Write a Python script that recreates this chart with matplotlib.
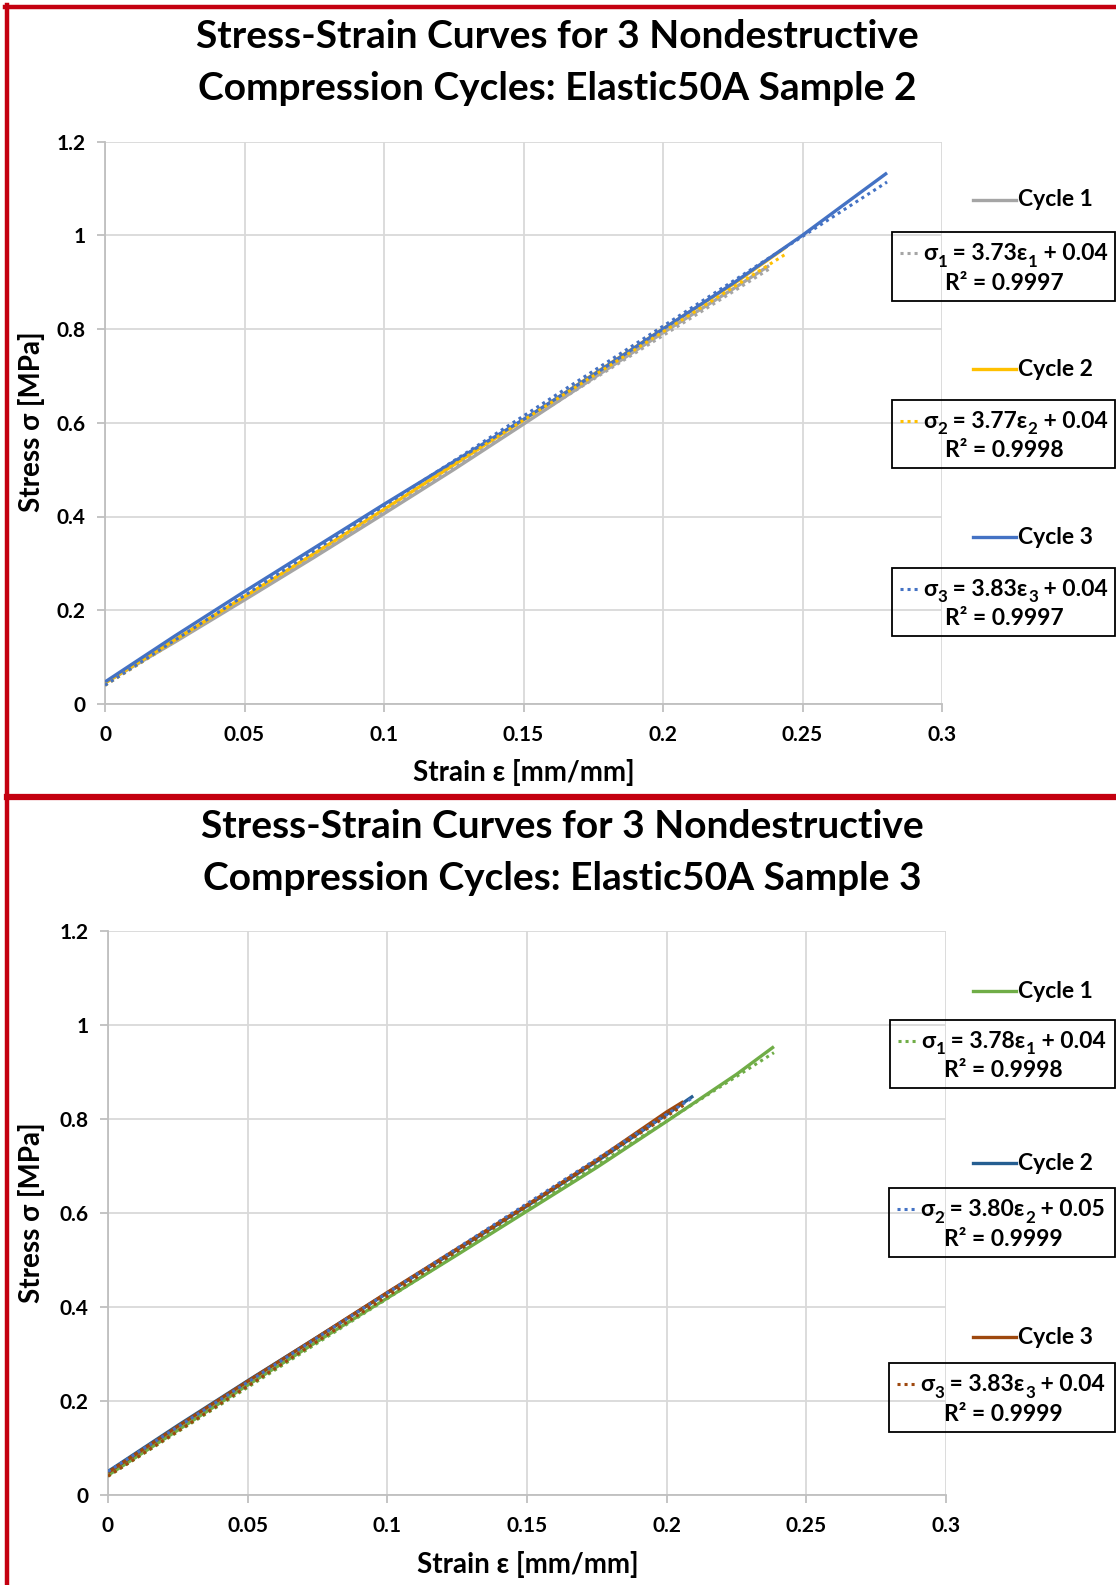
import matplotlib
matplotlib.use("Agg")
import matplotlib.pyplot as plt
from matplotlib.lines import Line2D
from matplotlib.patches import Rectangle
import numpy as np

plt.rcParams['font.family'] = ['Lato', 'DejaVu Sans']
plt.rcParams['font.weight'] = 'bold'

W, H = 1116, 1585

# ---------------- data ----------------
x_ticks = [0, 0.05, 0.1, 0.15, 0.2, 0.25, 0.3]
x_ticklabels = ["0", "0.05", "0.1", "0.15", "0.2", "0.25", "0.3"]
y_ticks = [0, 0.2, 0.4, 0.6, 0.8, 1.0, 1.2]
y_ticklabels = ["0", "0.2", "0.4", "0.6", "0.8", "1", "1.2"]

# Sample 2
s2_c1_x = [0, 0.025, 0.05, 0.075, 0.1, 0.125, 0.15, 0.175, 0.2, 0.225, 0.238]
s2_c1_y = [0.045, 0.132, 0.222, 0.313, 0.406, 0.500, 0.597, 0.695, 0.792, 0.885, 0.935]
s2_c2_x = [0, 0.025, 0.05, 0.075, 0.1, 0.125, 0.15, 0.175, 0.2, 0.225, 0.2437]
s2_c2_y = [0.045, 0.137, 0.229, 0.321, 0.415, 0.510, 0.606, 0.703, 0.800, 0.895, 0.973]
s2_c3_x = [0, 0.025, 0.05, 0.075, 0.1, 0.125, 0.15, 0.175, 0.2, 0.225, 0.25, 0.265, 0.2803]
s2_c3_y = [0.047, 0.145, 0.240, 0.333, 0.426, 0.517, 0.607, 0.702, 0.800, 0.897, 1.000, 1.066, 1.133]
s2_slope = [3.73, 3.77, 3.83]
s2_icpt = [0.04, 0.04, 0.04]
s2_r2 = ["0.9997", "0.9998", "0.9997"]
s2_names = ["Cycle 1", "Cycle 2", "Cycle 3"]

# Sample 3
s3_c1_x = [0, 0.025, 0.05, 0.075, 0.1, 0.125, 0.15, 0.175, 0.2, 0.225, 0.2384]
s3_c1_y = [0.042, 0.138, 0.234, 0.327, 0.419, 0.511, 0.604, 0.697, 0.795, 0.895, 0.954]
s3_c2_x = [0, 0.025, 0.05, 0.075, 0.1, 0.125, 0.15, 0.175, 0.2, 0.2095]
s3_c2_y = [0.050, 0.148, 0.243, 0.336, 0.430, 0.522, 0.615, 0.710, 0.810, 0.849]
s3_c3_x = [0, 0.025, 0.05, 0.075, 0.1, 0.125, 0.15, 0.175, 0.2, 0.206]
s3_c3_y = [0.048, 0.146, 0.242, 0.336, 0.431, 0.524, 0.617, 0.713, 0.815, 0.837]
s3_slope = [3.78, 3.80, 3.83]
s3_icpt = [0.04, 0.05, 0.04]
s3_r2 = ["0.9998", "0.9999", "0.9999"]
s3_names = ["Cycle 1", "Cycle 2", "Cycle 3"]

s2_colors = ['#A5A5A5', '#FFC000', '#4472C4']
s2_tcolors = ['#A5A5A5', '#FFC000', '#4472C4']
s3_colors = ['#70AD47', '#255E91', '#9E480E']
s3_tcolors = ['#70AD47', '#4472C4', '#9E480E']

titles = [("Stress-Strain Curves for 3 Nondestructive", "Compression Cycles: Elastic50A Sample 2"),
          ("Stress-Strain Curves for 3 Nondestructive", "Compression Cycles: Elastic50A Sample 3")]
xlabel = "Strain ε [mm/mm]"
ylabel = "Stress σ [MPa]"
subs = ["1", "2", "3"]

# ---------------- figure ----------------
fig = plt.figure(figsize=(W / 100, H / 100), dpi=100)

def fx(px):
    return px / W

def fy(py):
    return 1 - py / H

DOT = (0, (1, 1.3))
LEGFS = 16.5

def make_axes(l, r, b, t):
    ax = fig.add_axes([fx(l), fy(b), fx(r) - fx(l), fy(t) - fy(b)])
    ax.set_xlim(0, 0.3)
    ax.set_ylim(0, 1.2)
    ax.set_xticks(x_ticks)
    ax.set_xticklabels(x_ticklabels)
    ax.set_yticks(y_ticks)
    ax.set_yticklabels(y_ticklabels)
    ax.grid(True, color='#D9D9D9', lw=1.3)
    ax.set_axisbelow(True)
    for s in ['top', 'right']:
        ax.spines[s].set_visible(False)
    for s in ['left', 'bottom']:
        ax.spines[s].set_color('#BFBFBF')
        ax.spines[s].set_linewidth(1.3)
    ax.tick_params(axis='both', direction='out', length=6, width=1.3, color='#BFBFBF',
                   labelsize=15, labelcolor='#000000')
    ax.tick_params(axis='y', pad=8)
    ax.tick_params(axis='x', pad=9)
    for lab in ax.get_xticklabels() + ax.get_yticklabels():
        lab.set_fontweight('bold')
    return ax

def draw_chart(ax, xs, ys, colors, tcolors, slopes, icpts):
    for x, y, c in zip(xs, ys, colors):
        ax.plot(x, y, color=c, lw=2.4, solid_capstyle='butt', zorder=3)
    for x, c, m, b in zip(xs, tcolors, slopes, icpts):
        xe = np.array([0, max(x)])
        ax.plot(xe, m * xe + b, color=c, lw=2.2, linestyle=DOT, zorder=4)

def chain_text(ax, x, y, pieces):
    """pieces: list of (string, is_subscript). x,y in px; y is baseline."""
    t0 = fig.text(fx(x), fy(y), pieces[0][0], fontsize=LEGFS, fontweight='bold',
                  va='baseline', ha='left')
    prev = t0
    for s, sub in pieces[1:]:
        fs = LEGFS * 0.74 if sub else LEGFS
        dy = -4.5 if sub else 0
        prev = ax.annotate(s, xy=(1, fy(y)), xycoords=(prev, 'figure fraction'),
                           xytext=(0.3 if sub else 0, dy), textcoords='offset points',
                           fontsize=fs, fontweight='bold', va='baseline', ha='left',
                           annotation_clip=False)

def draw_legend(ax, entries):
    for name, c, tc, slope, icpt, idx, r2, ly, box in entries:
        lx0, lx1, tx = 973, 1016, 1018
        fig.add_artist(Line2D([fx(lx0), fx(lx1)], [fy(ly), fy(ly)], color=c, lw=2.4,
                              transform=fig.transFigure))
        fig.text(fx(tx), fy(ly), name, fontsize=LEGFS, fontweight='bold', va='center', ha='left')
        bx0, bx1, by0, by1 = box
        fig.add_artist(Rectangle((fx(bx0), fy(by1)), fx(bx1) - fx(bx0), fy(by0) - fy(by1),
                                 transform=fig.transFigure, fill=False, ec='#000000', lw=1.3))
        ey = by0 + (by1 - by0) * 0.31
        ry = by0 + (by1 - by0) * 0.74
        fig.add_artist(Line2D([fx(bx0 + 8), fx(bx0 + 26)], [fy(ey), fy(ey)], color=tc, lw=2.2,
                              linestyle=(0, (1, 1.3)), transform=fig.transFigure))
        pieces = [("σ", False), (subs[idx], True), (f" = {slope:.2f}ε", False),
                  (subs[idx], True), (f" + {icpt:.2f}", False)]
        chain_text(ax, bx0 + 31, ey + 7, pieces)
        fig.text(fx((bx0 + bx1) / 2 + 1), fy(ry), "R² = " + r2, fontsize=LEGFS,
                 fontweight='bold', va='center', ha='center')

# ----- chart 1 -----
ax1 = make_axes(105, 942, 704, 141.5)
draw_chart(ax1, [s2_c1_x, s2_c2_x, s2_c3_x], [s2_c1_y, s2_c2_y, s2_c3_y],
           s2_colors, s2_tcolors, s2_slope, s2_icpt)
fig.text(fx(557), fy(37), titles[0][0], fontsize=28, fontweight='bold', ha='center', va='center')
fig.text(fx(557), fy(88), titles[0][1], fontsize=28, fontweight='bold', ha='center', va='center')
fig.text(fx(524), fy(773), xlabel, fontsize=20, fontweight='bold', ha='center', va='center')
fig.text(fx(32), fy(422), ylabel, fontsize=20, fontweight='bold', ha='center', va='center',
         rotation=90)
leg1 = []
label_ys1 = [200, 369, 537]
boxes1 = [(892, 1115, 232, 301), (892, 1115, 400, 468), (892, 1115, 568, 636)]
for i in range(3):
    leg1.append((s2_names[i], s2_colors[i], s2_tcolors[i], s2_slope[i], s2_icpt[i], i,
                 s2_r2[i], label_ys1[i], boxes1[i]))
draw_legend(ax1, leg1)

# ----- chart 2 -----
ax2 = make_axes(108, 946, 1495, 931)
draw_chart(ax2, [s3_c1_x, s3_c2_x, s3_c3_x], [s3_c1_y, s3_c2_y, s3_c3_y],
           s3_colors, s3_tcolors, s3_slope, s3_icpt)
fig.text(fx(562), fy(827), titles[1][0], fontsize=28, fontweight='bold', ha='center', va='center')
fig.text(fx(562), fy(879), titles[1][1], fontsize=28, fontweight='bold', ha='center', va='center')
fig.text(fx(528), fy(1565), xlabel, fontsize=20, fontweight='bold', ha='center', va='center')
fig.text(fx(32), fy(1213), ylabel, fontsize=20, fontweight='bold', ha='center', va='center',
         rotation=90)
leg2 = []
label_ys2 = [991, 1163, 1337]
boxes2 = [(890, 1115, 1020, 1088), (889, 1115, 1188, 1257), (889, 1115, 1363, 1432)]
for i in range(3):
    leg2.append((s3_names[i], s3_colors[i], s3_tcolors[i], s3_slope[i], s3_icpt[i], i,
                 s3_r2[i], label_ys2[i], boxes2[i]))
draw_legend(ax2, leg2)

# red frame lines
RED = '#C40010'
fig.add_artist(Line2D([fx(5), fx(W)], [fy(7), fy(7)], color=RED, lw=3.2, transform=fig.transFigure))
fig.add_artist(Line2D([fx(7), fx(7)], [fy(5), fy(H)], color=RED, lw=3.2, transform=fig.transFigure))
fig.add_artist(Line2D([fx(7), fx(W)], [fy(797), fy(797)], color=RED, lw=4.5, transform=fig.transFigure))

fig.savefig("out.png", dpi=100, facecolor='white')
